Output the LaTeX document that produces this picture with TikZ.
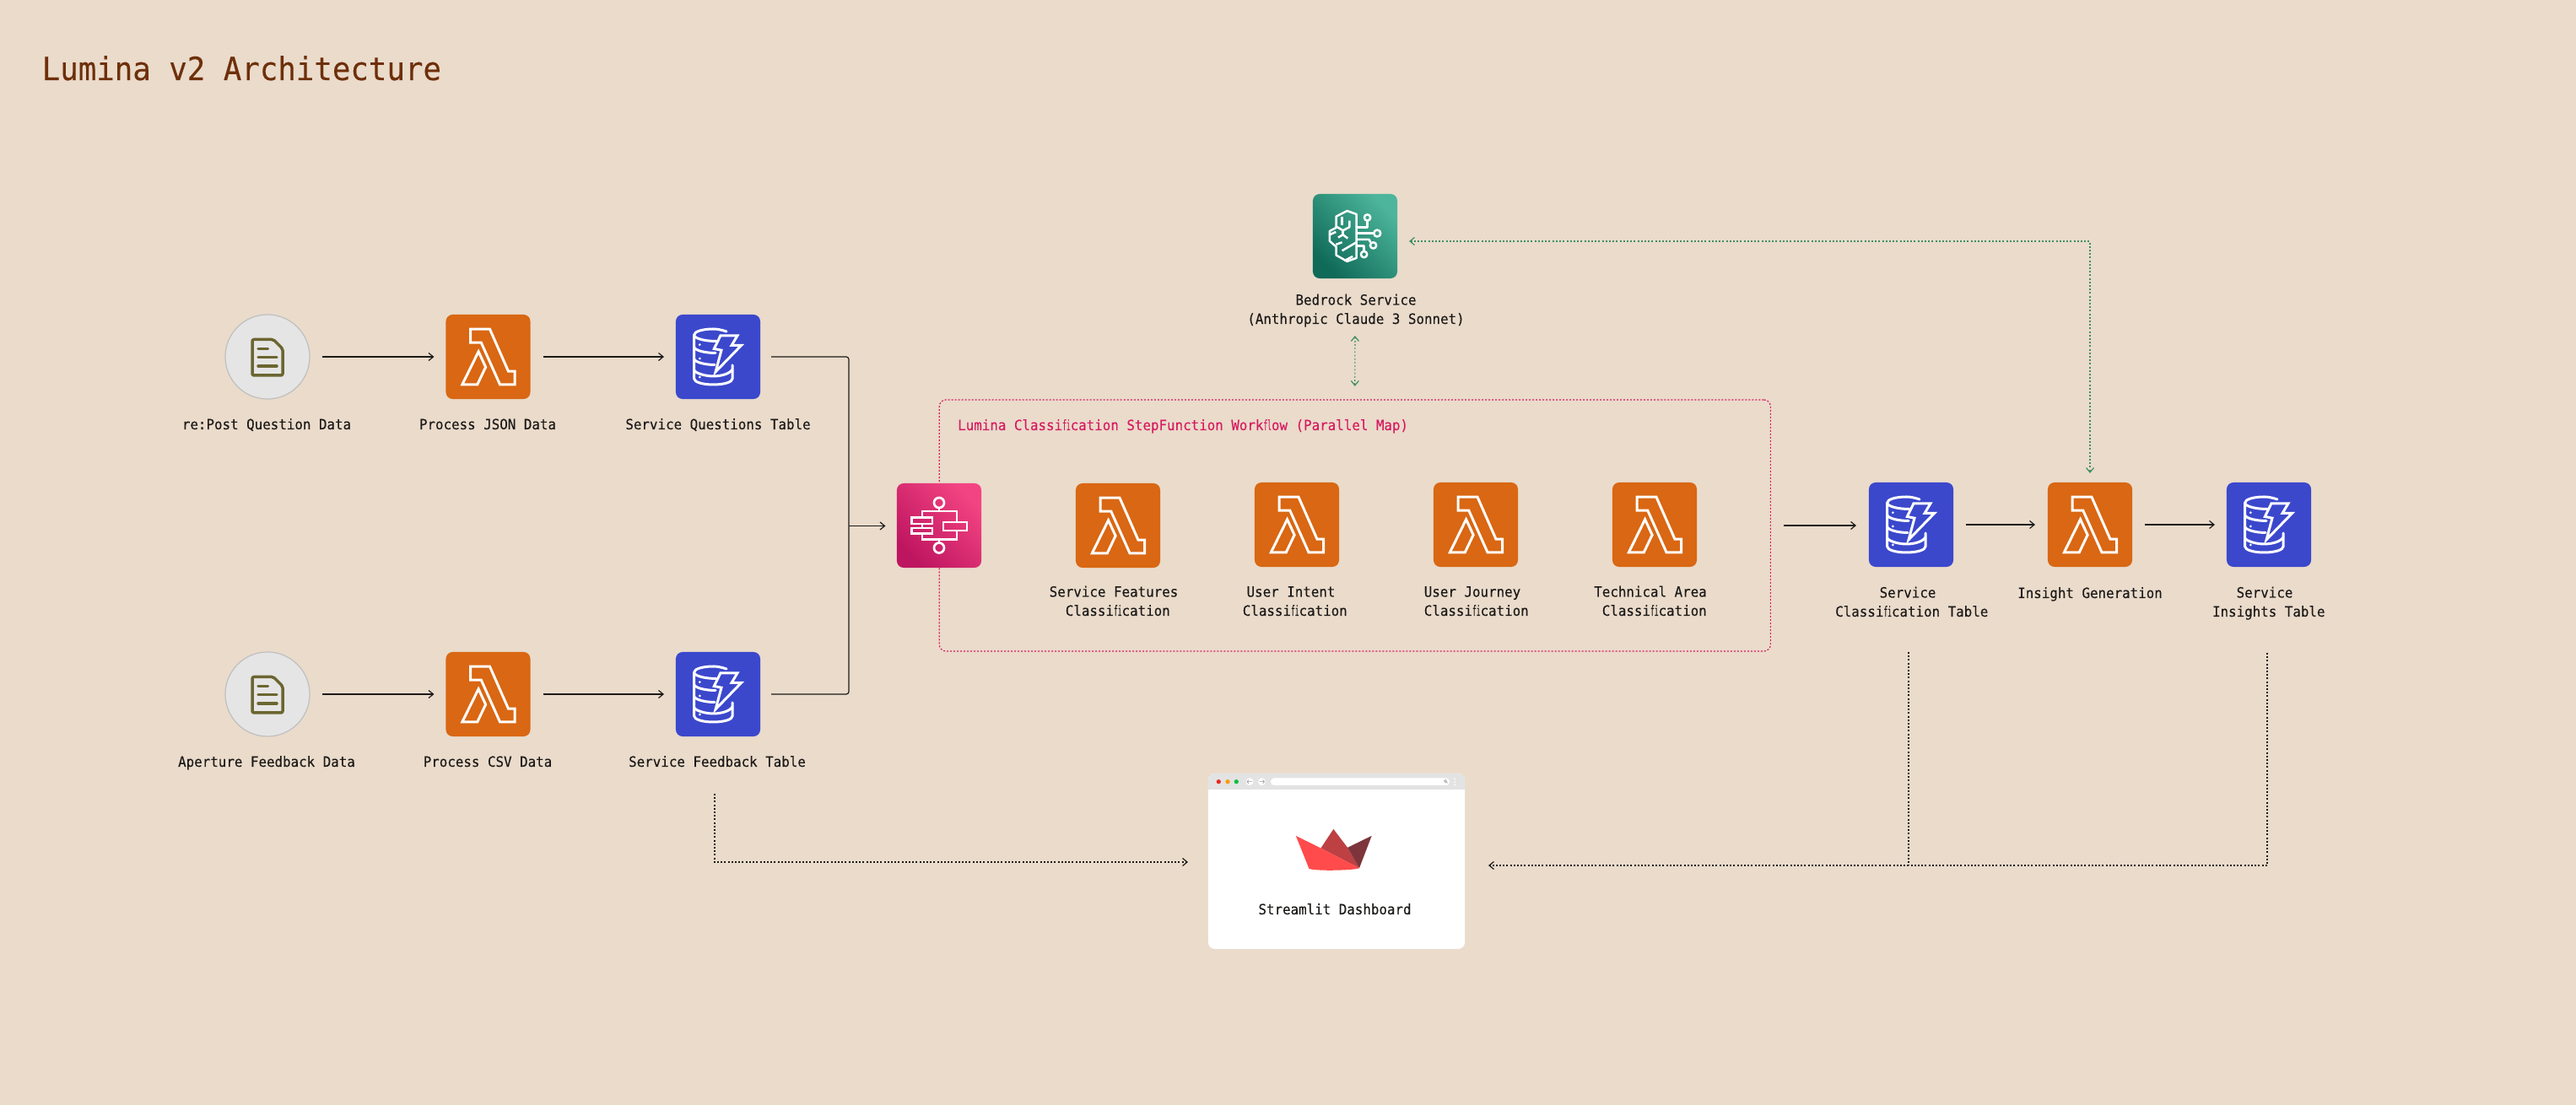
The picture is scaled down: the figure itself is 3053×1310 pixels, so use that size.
\documentclass[tikz,border=0pt]{standalone}
\usepackage{fontspec}
\usetikzlibrary{arrows.meta,calc}
\newfontfamily\monoF[FakeStretch=0.94,FakeBold=0.2]{DejaVu Sans Mono}
\newcommand\ligfi{\scalebox{0.5}[1]{fi}}
\newcommand\ligfl{\scalebox{0.5}[1]{fl}}
\definecolor{bgc}{HTML}{EADBCB}
\definecolor{lam}{HTML}{D96713}
\definecolor{dyn}{HTML}{3B48CC}
\definecolor{crim}{HTML}{D81B60}
\definecolor{grn}{HTML}{3F8F63}
\definecolor{ink}{HTML}{1C1A18}
\definecolor{docc}{HTML}{6B6530}
\definecolor{tc}{HTML}{6E2F0A}
\definecolor{stepA}{HTML}{BE1560}\definecolor{stepB}{HTML}{F34482}
\definecolor{bedA}{HTML}{0F6A58}\definecolor{bedB}{HTML}{4DB59B}
\tikzset{
  icon/.style={minimum size=1cm,inner sep=0,outer sep=0,rounded corners=0.08cm},
  lambdabox/.style={icon,fill=lam},
  dynbox/.style={icon,fill=dyn},
  stepbox/.style={icon,bottom color=stepA,top color=stepB,shading angle=-45},
  bedbox/.style={icon,bottom color=bedA,top color=bedB,shading angle=-45},
  srcbox/.style={circle,minimum size=1cm,inner sep=0,outer sep=0,fill=black!10,draw=black!25,line width=0.012cm},
  lbl/.style={font=\monoF\fontsize{4.79}{6.4}\selectfont,text=ink,inner sep=0,align=center,anchor=base},
  wire/.style={draw=white,line width=0.03cm,line join=miter},
  conn/.style={draw=ink,line width=0.012cm,-{Straight Barb[length=0.055cm,width=0.09cm,line width=0.012cm]}},
  plain/.style={draw=ink,line width=0.012cm},
  dots/.style={draw=ink,line width=0.012cm,dash pattern=on 0.02cm off 0.022cm},
  dotsarrow/.style={dots,-{Straight Barb[length=0.055cm,width=0.09cm,line width=0.012cm]}},
  greendots/.style={draw=grn,line width=0.012cm,dash pattern=on 0.02cm off 0.022cm,{Straight Barb[length=0.055cm,width=0.09cm,line width=0.012cm]}-{Straight Barb[length=0.055cm,width=0.09cm,line width=0.012cm]}},
  gap/.style 2 args={shorten <=#1*0.01cm,shorten >=#2*0.01cm},
  lambdaicon/.pic={
    \draw[wire] (-20.8,-32.8)--(2,-32.8)--(24,17.2)--(31.5,17.2)--(31.5,32.8)--(14,32.8)--(-8.2,-16.8)--(-20.8,-16.8)--cycle;
    \draw[wire] (-11.4,-6.2)--(-2.9,12.2)--(-12.7,32.8)--(-30.6,32.8)--cycle;
  },
  dynicon/.pic={
    \begin{scope}[wire,line cap=round,line join=round]
    \draw (10,-30) .. controls (4,-32) and (-1,-33) .. (-5.7,-33) .. controls (-18,-33) and (-28.3,-30) .. (-28.3,-26) -- (-28.3,26) .. controls (-28.3,30) and (-18,33) .. (-5.7,33) .. controls (7,33) and (17,30) .. (17,26) -- (17,10);
    \draw (-28.3,-25) .. controls (-26,-21) and (-14,-18.5) .. (-2,-18.5);
    \draw (-28.3,-11) .. controls (-26,-7) and (-14,-4.5) .. (-3,-4.5);
    \draw (-28.3,3) .. controls (-26,7) and (-14,9.5) .. (-4,9.5);
    \draw (-28.3,16) .. controls (-26,20) and (-14,23) .. (-5.7,23) .. controls (4,23) and (14,20) .. (17,15);
    \end{scope}
    \fill[white] (-21.7,-14.3) circle[radius=1.5] (-21.7,2) circle[radius=1.5] (-21.7,24) circle[radius=1.5];
    \filldraw[wire,fill=dyn] (2.9,-25)--(22.9,-25)--(16,-13.5)--(27.5,-13.5)--(-2.9,17.8)--(4,-7.8)--(-4.7,-9.5)--cycle;
  },
  stepicon/.pic={
    \begin{scope}[wire,line width=0.027cm]
    \draw (0,-27) circle[radius=6];
    \draw (0,26.5) circle[radius=6];
    \draw (0,-21)--(0,-17);
    \draw (0,20.5)--(0,16.5);
    \draw (-20,-9.5)--(-20,-17)--(21,-17)--(21,-4);
    \draw (-20,9.5)--(-20,16.5)--(21,16.5)--(21,6);
    \draw (-20,-2)--(-20,3);
    \draw (-32.5,-9.5) rectangle (-8,-2);
    \draw (-32.5,3) rectangle (-8,9.5);
    \draw (5,-4) rectangle (33,6);
    \end{scope}
  },
  bedicon/.pic={
    \begin{scope}[wire,line width=0.025cm,shift={(-50,-50)},x=0.00333cm,y=-0.00333cm,line join=round]
    \draw (155,72)--(122,60)--(83,80)--(83,120)--(60,132)--(60,168)--(83,188)--(83,218)--(122,240)--(155,228)--cycle;
    \draw (104,80)--(104,110);
    \draw (82,115)--(107,130)--(130,118)--(130,95);
    \draw (107,130)--(107,145);
    \draw (90,155)--(107,145)--(124,158);
    \draw (60,145)--(82,135);
    \draw (82,180)--(104,172);
    \draw (104,202)--(155,172);
    \draw (112,238)--(142,222);
    \draw (155,118)--(194,118)--(194,95);
    \draw (194,84) circle[radius=11];
    \draw (155,140)--(217,140);
    \draw (229,140) circle[radius=12];
    \draw (155,162)--(200,162)--(205,172);
    \draw (215,183) circle[radius=11];
    \draw (155,185)--(182,185)--(182,205);
    \draw (182,215) circle[radius=11];
    \end{scope}
  },
  docicon/.pic={
    \draw[draw=docc,line width=0.035cm,rounded corners=0.02cm,line join=round] (-18,-20.5)--(7,-20.5)--(18,-9.5)--(18,22)--(-18,22)--cycle;
    \draw[draw=docc,line width=0.035cm,line cap=round] (-11,-9.5)--(0.5,-9.5) (-11,0.5)--(11,0.5) (-11,11)--(11,11);
  },
}
\begin{document}
\begin{tikzpicture}[x=0.01cm,y=-0.01cm]
\useasboundingbox (0,0) rectangle (3053,1310);
\fill[bgc] (0,0) rectangle (3053,1310);

\node[font=\monoF\fontsize{10.81}{12}\selectfont,text=tc,anchor=base west,inner sep=0] (title) at (49,95) {Lumina v2 Architecture};

% workflow container
\node[draw=crim,line width=0.012cm,dash pattern=on 0.02cm off 0.02cm,rounded corners=0.08cm,minimum width=9.845cm,minimum height=2.98cm,inner sep=0,outer sep=0] (wf) at (1605.8,623) {};
\node[font=\monoF\fontsize{4.79}{6}\selectfont,text=crim,anchor=base west,inner sep=0] (wftitle) at (1134.5,510) {Lumina Classi\ligfi cation StepFunction Work\ligfl ow (Parallel Map)};

% sources
\node[srcbox] (c1) at (317,423) {}; \pic at (c1) {docicon};
\node[srcbox] (c2) at (317,823) {}; \pic at (c2) {docicon};
\node[lambdabox] (l1) at (578.5,423) {}; \pic at (l1) {lambdaicon};
\node[lambdabox] (l2) at (578.5,823) {}; \pic at (l2) {lambdaicon};
\node[dynbox] (d1) at (851,423) {}; \pic at (d1) {dynicon};
\node[dynbox] (d2) at (851,823) {}; \pic at (d2) {dynicon};

% step function row
\node[stepbox] (s) at (1113,623) {}; \pic at (s) {stepicon};
\node[lambdabox] (f1) at (1325,623) {}; \pic at (f1) {lambdaicon};
\node[lambdabox] (f2) at (1537,622) {}; \pic at (f2) {lambdaicon};
\node[lambdabox] (f3) at (1749,622) {}; \pic at (f3) {lambdaicon};
\node[lambdabox] (f4) at (1961,622) {}; \pic at (f4) {lambdaicon};
\node[dynbox] (d3) at (2265,622) {}; \pic at (d3) {dynicon};
\node[lambdabox] (ig) at (2477,622) {}; \pic at (ig) {lambdaicon};
\node[dynbox] (d4) at (2689,622) {}; \pic at (d4) {dynicon};
\node[bedbox] (bed) at (1606,280) {}; \pic at (bed) {bedicon};

% labels
\node[lbl] (t1) at (316,509) {re:Post Question Data};
\node[lbl] (t2) at (578,509) {Process JSON Data};
\node[lbl] (t3) at (851,509) {Service Questions Table};
\node[lbl] (t4) at (316,909) {Aperture Feedback Data};
\node[lbl] (t5) at (578,909) {Process CSV Data};
\node[lbl] (t6) at (850,909) {Service Feedback Table};
\node[lbl] (t7) at (1320,730) {Service Features\\\hphantom{x}Classi\ligfi cation};
\node[lbl] (t8) at (1530,730) {User Intent\\\hphantom{x}Classi\ligfi cation};
\node[lbl] (t9) at (1745,730) {User Journey\\\hphantom{x}Classi\ligfi cation};
\node[lbl] (t10) at (1956,730) {Technical Area\\\hphantom{x}Classi\ligfi cation};
\node[lbl] (t11) at (2261,731) {Service\\\hphantom{x}Classi\ligfi cation Table};
\node[lbl] (t12) at (2477,709) {Insight Generation};
\node[lbl] (t13) at (2684,731) {Service\\\hphantom{x}Insights Table};
\node[lbl] (t14) at (1607,384) {Bedrock Service\\(Anthropic Claude 3 Sonnet)};

% dashboard
\node[icon,fill=white,minimum width=3.04cm,minimum height=2.08cm] (dash) at (1584,1021) {};
\fill[black!11,rounded corners=0.08cm] (1432,936)--(1432,917)--(1736,917)--(1736,936);
\fill[red!90!black!85!white] (1444.3,926.7) circle[radius=2.6];
\fill[orange!80!yellow] (1455,926.7) circle[radius=2.6];
\fill[green!50!teal] (1465.3,926.7) circle[radius=2.6];
\fill[white] (1481,926.7) circle[radius=4.4] (1495.5,926.7) circle[radius=4.4];
\draw[black!40,line width=0.006cm] (1484,926.7)--(1478,926.7) (1480,924.5)--(1478,926.7)--(1480,929) (1492.5,926.7)--(1498.5,926.7) (1496.5,924.5)--(1498.5,926.7)--(1496.5,929);
\fill[white,rounded corners=0.04cm] (1506,922.5) rectangle (1718,931);
\draw[black!45,line width=0.006cm] (1713,926) circle[radius=1.5] (1714,927)--(1715.5,928.5);
\fill[white] (1724,923.5) circle[radius=1] (1724,927) circle[radius=1] (1724,930.5) circle[radius=1];
\begin{scope}[shift={(1420,910)},x=0.00333cm,y=-0.00333cm,line join=round]
  \fill[fill={rgb,255:red,189;green,64;blue,67}] (437,287)--(482,219)--(532,285)--(574,358)--cycle;
  \fill[fill={rgb,255:red,125;green,53;blue,59}] (532,285)--(618,243)--(574,358)--cycle;
  \fill[fill={rgb,255:red,255;green,75;blue,75}] (348,243)--(437,287)--(574,358) .. controls (560,366) and (420,370) .. (395,360)--cycle;
\end{scope}
\node[lbl] (t15) at (1582,1084) {Streamlit Dashboard};

% connectors
\coordinate (j) at (1006,623.5);
\coordinate (fbStart) at (847,941);
\coordinate (dashL) at (1432,1022);
\coordinate (dashR) at (1736,1026);
\coordinate (clStart) at (2262,773);
\coordinate (clEnd) at (2262,1026);
\coordinate (inStart) at (2687,774);
\coordinate (bedE) at (1656,286);
\draw[conn,gap={15}{14}] (c1.east)--(l1.west);
\draw[conn,gap={15}{14}] (l1.east)--(d1.west);
\draw[conn,gap={15}{14}] (c2.east)--(l2.west);
\draw[conn,gap={15}{14}] (l2.east)--(d2.west);
\draw[plain,rounded corners=0.03cm,shorten <=0.13cm] (d1.east)-|(j);
\draw[plain,rounded corners=0.03cm,shorten <=0.13cm] (d2.east)-|(j);
\draw[conn,shorten >=0.135cm] (j)--(s.west|-j);
\draw[conn,gap={16}{15}] (wf.east)--(d3.west|-wf.east);
\draw[conn,gap={15}{15}] (d3.east)--(ig.west);
\draw[conn,gap={15}{14}] (ig.east)--(d4.west);
\draw[greendots,gap={68}{16}] (bed.south)--(wf.north);
\draw[greendots,shorten <=0.14cm,shorten >=0.11cm] (bedE)-|(ig.north);
\draw[dotsarrow,shorten >=0.24cm] (fbStart)|-(dashL);
\draw[dotsarrow,shorten >=0.28cm] (inStart)|-(dashR);
\draw[dots] (clStart)--(clEnd);
\end{tikzpicture}
\end{document}
